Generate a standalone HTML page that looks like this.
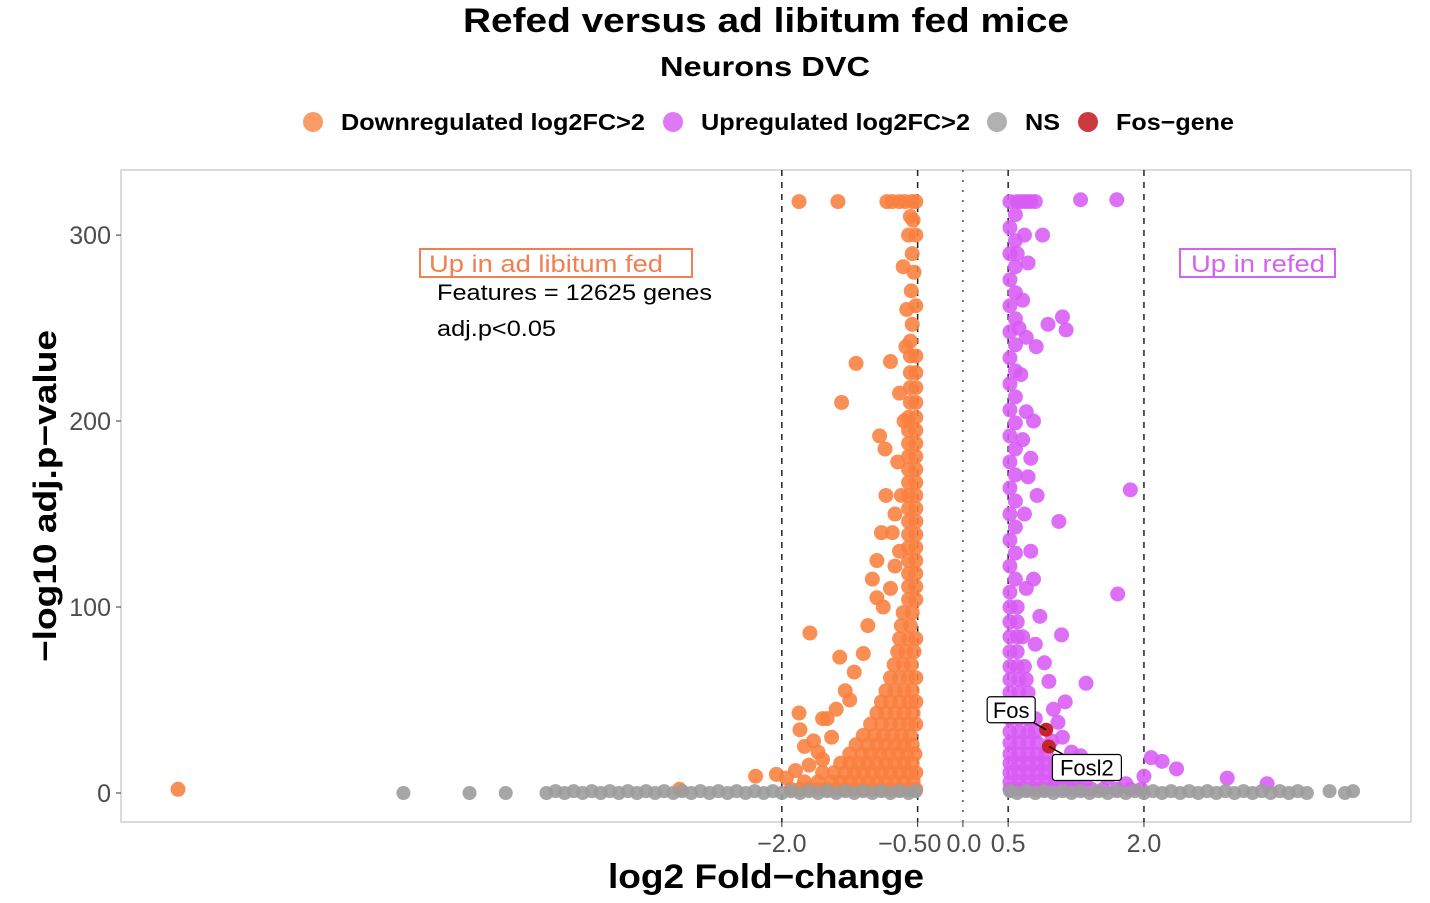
<!DOCTYPE html>
<html><head><meta charset="utf-8"><style>
html,body{margin:0;padding:0;background:#fff;}
svg{display:block;font-family:"Liberation Sans",Arial,sans-serif;}
</style></head><body>
<svg id="chart" width="1430" height="903" viewBox="0 0 1430 903" xmlns="http://www.w3.org/2000/svg">
<rect width="1430" height="903" fill="#fff"/>
<text x="766" y="32" text-anchor="middle" font-size="34" font-weight="bold" textLength="606" lengthAdjust="spacingAndGlyphs">Refed versus ad libitum fed mice</text>
<text x="765" y="76" text-anchor="middle" font-size="28" font-weight="bold" textLength="210" lengthAdjust="spacingAndGlyphs">Neurons DVC</text>
<g font-size="23" font-weight="bold">
 <g><circle cx="313" cy="122" r="10" fill="#F98A4E" opacity="0.85"/><text x="341" y="130" textLength="304" lengthAdjust="spacingAndGlyphs">Downregulated log2FC&gt;2</text></g>
 <g><circle cx="673" cy="122" r="10" fill="#DA62F4" opacity="0.85"/><text x="701" y="130" textLength="269" lengthAdjust="spacingAndGlyphs">Upregulated log2FC&gt;2</text></g>
 <g><circle cx="997" cy="122" r="10" fill="#A3A3A3" opacity="0.85"/><text x="1025" y="130" textLength="35" lengthAdjust="spacingAndGlyphs">NS</text></g>
 <g><circle cx="1088" cy="122" r="10" fill="#C8232B" opacity="0.9"/><text x="1116" y="130" textLength="118" lengthAdjust="spacingAndGlyphs">Fos−gene</text></g>
</g>
<rect x="121" y="170" width="1290" height="652" fill="#fff" stroke="#cfcfcf" stroke-width="1.5"/>
<g id="grid"></g>
<g id="marks"></g>
<g id="axes" font-size="25" fill="#4d4d4d"></g>
<text transform="translate(56,496) rotate(-90)" text-anchor="middle" font-size="32" font-weight="bold" textLength="332" lengthAdjust="spacingAndGlyphs">−log10 adj.p−value</text>
<text x="766" y="888" text-anchor="middle" font-size="34" font-weight="bold" textLength="316" lengthAdjust="spacingAndGlyphs">log2 Fold−change</text>
<g><rect x="420" y="249" width="272" height="28" fill="none" stroke="#F08050" stroke-width="2"/><text x="429" y="272" font-size="24" fill="#F08050" textLength="234" lengthAdjust="spacingAndGlyphs">Up in ad libitum fed</text></g>
<g><rect x="1180" y="249" width="155" height="28" fill="none" stroke="#D462F0" stroke-width="2"/><text x="1191" y="272" font-size="24" fill="#D462F0" textLength="134" lengthAdjust="spacingAndGlyphs">Up in refed</text></g>
<text x="437" y="300" font-size="22" textLength="275" lengthAdjust="spacingAndGlyphs">Features = 12625 genes</text>
<text x="437" y="336" font-size="22" textLength="119" lengthAdjust="spacingAndGlyphs">adj.p&lt;0.05</text>
<g id="labels"></g>
</svg>
<script>
const xTicks=[-2.0,-0.5,0.0,0.5,2.0];
const xTickLabels=["−2.0","−0.50","0.0","0.5","2.0"];
const yTicks=[0,100,200,300];
const yTickLabels=["0","100","200","300"];
const cutoffLines=[-2,-0.5,0.5,2];
const downPts=[
[-1.9,2],[-1.8,2],[-1.7,2],[-1.6,2],[-1.5,2],[-1.4,2],[-1.3,2],[-1.2,2],[-1.1,2],[-1.0,2],[-0.9,2],[-0.8,2],[-0.7,2],[-0.6,2],[-0.52,2],
[-1.75,6],[-1.6,6],[-1.45,6],[-1.35,6],[-1.25,6],[-1.15,6],[-1.05,6],[-0.95,6],[-0.85,6],[-0.75,6],[-0.65,6],[-0.55,6],
[-1.55,11],[-1.42,11],[-1.3,11],[-1.2,11],[-1.1,11],[-1.0,11],[-0.9,11],[-0.8,11],[-0.7,11],[-0.6,11],[-0.52,11],
[-1.35,16],[-1.25,16],[-1.15,16],[-1.05,16],[-0.95,16],[-0.85,16],[-0.75,16],[-0.65,16],[-0.56,16],
[-1.25,21],[-1.12,21],[-1.02,21],[-0.92,21],[-0.82,21],[-0.72,21],[-0.62,21],[-0.53,21],
[-1.18,26],[-1.05,26],[-0.95,26],[-0.85,26],[-0.75,26],[-0.65,26],[-0.56,26],
[-1.1,31],[-0.98,31],[-0.88,31],[-0.78,31],[-0.68,31],[-0.58,31],
[-1.02,37],[-0.9,37],[-0.8,37],[-0.7,37],[-0.6,37],[-0.52,37],
[-0.95,43],[-0.85,43],[-0.75,43],[-0.65,43],[-0.55,43],
[-0.9,49],[-0.8,49],[-0.7,49],[-0.6,49],[-0.52,49],
[-0.85,55],[-0.75,55],[-0.65,55],[-0.56,55],
[-0.8,62],[-0.7,62],[-0.6,62],[-0.52,62],
[-0.76,69],[-0.66,69],[-0.57,69],[-0.72,76],[-0.63,76],[-0.54,76],
[-0.7,83],[-0.6,83],[-0.52,83],[-0.68,90],[-0.58,90],[-0.66,97],[-0.56,97],
[-0.6,104],[-0.52,104],[-0.6,111],[-0.52,111],[-0.6,118],[-0.52,118],[-0.6,125],[-0.52,125],[-0.6,132],[-0.52,132],
[-0.6,139],[-0.52,139],[-0.6,146],[-0.52,146],[-0.6,153],[-0.52,153],[-0.6,160],[-0.52,160],[-0.6,167],[-0.52,167],
[-0.6,174],[-0.52,174],[-0.6,181],[-0.52,181],[-0.6,188],[-0.52,188],[-0.6,195],[-0.52,195],[-0.6,202],[-0.52,202],
[-0.58,210],[-0.52,210],[-0.58,218],[-0.52,218],[-0.58,226],[-0.52,226],[-0.58,235],[-0.52,235],[-0.58,243],
[-0.56,252],[-0.52,262],[-0.57,270],[-0.54,280],[-0.56,290],[-0.52,300],[-0.55,308],
[-0.7,130],[-0.75,122],[-0.68,160],[-0.72,178],[-0.65,200],[-0.7,215],[-0.63,240],[-0.8,232],[-0.62,260],[-0.66,283],
[-0.6,300],[-0.58,310],[-0.84,318],[-0.78,318],[-0.7,318],[-0.64,318],[-0.56,318],[-0.52,318],
[-1.65,28],[-1.6,22],[-1.75,25],[-1.55,18],[-1.85,12],[-1.95,8],[-2.06,10],[-2.29,9],[-1.7,15],[-1.45,30],
[-1.4,45],[-1.3,55],[-1.25,50],[-1.2,65],[-1.1,75],[-1.05,90],[-1.0,115],[-0.95,125],[-0.9,140],[-1.5,40],
[-1.8,34],[-1.81,43],[-1.55,40],[-1.36,73],[-1.69,86],[-1.34,210],[-1.18,231],[-0.92,192],[-0.86,185],[-0.85,160],
[-0.88,100],[-0.95,105],[-0.8,110],[-0.78,140],[-0.75,150],[-3.13,2],[-8.67,2],[-1.81,318],[-1.38,318]
];
const upPts=[
[0.52,2],[0.62,2],[0.72,2],[0.82,2],[0.92,2],[1.02,2],[1.12,2],[1.22,2],[1.32,2],[1.42,2],[1.55,2],[1.7,2],[1.85,2],[1.97,2],
[0.52,6],[0.62,6],[0.72,6],[0.82,6],[0.92,6],[1.02,6],[1.12,6],[1.22,6],[1.35,6],
[0.52,11],[0.62,11],[0.72,11],[0.82,11],[0.92,11],[1.02,11],[1.12,11],
[0.52,16],[0.62,16],[0.72,16],[0.82,16],[0.92,16],[1.02,16],
[0.52,21],[0.62,21],[0.72,21],[0.82,21],[0.92,21],
[0.52,27],[0.62,27],[0.72,27],[0.82,27],[0.52,33],[0.62,33],[0.72,33],[0.8,33],
[0.52,40],[0.62,40],[0.72,40],[0.8,40],[0.52,47],[0.62,47],[0.72,47],[0.52,54],[0.62,54],[0.72,54],
[0.52,61],[0.62,61],[0.7,61],[0.52,68],[0.6,68],[0.68,68],[0.52,76],[0.6,76],[0.52,84],[0.6,84],[0.66,84],
[0.52,92],[0.6,92],[0.52,100],[0.6,100],
[0.52,108],[0.58,115],[0.52,122],[0.58,129],[0.52,136],[0.58,143],[0.52,150],[0.58,157],[0.52,164],[0.58,171],
[0.52,178],[0.58,185],[0.52,192],[0.58,199],[0.52,206],[0.58,213],[0.52,220],[0.58,227],[0.52,234],[0.58,241],
[0.52,248],[0.58,255],[0.52,262],[0.58,269],[0.52,276],[0.58,283],[0.52,290],[0.58,297],[0.52,304],[0.58,311],[0.52,318],
[0.7,110],[0.75,130],[0.68,150],[0.72,170],[0.66,190],[0.7,205],[0.64,225],[0.7,245],[0.66,265],[0.72,285],
[0.68,300],[0.6,318],[0.65,318],[0.7,318],[0.75,318],[0.8,318],[0.6,290],[0.62,250],[0.78,115],[0.85,95],
[0.8,80],[0.9,70],[0.95,60],[1.0,45],[1.05,38],[1.1,30],[0.98,28],[1.2,22],[1.3,20],[1.4,12],
[1.6,8],[1.8,5],[2.0,9],[2.08,19],[2.2,17],[2.36,13],[2.92,8],[3.36,5],[1.30,319],[1.70,319],
[0.88,300],[1.10,256],[1.14,249],[0.94,252],[0.81,240],[1.85,163],[1.71,107],[1.06,146],[1.09,85],[1.36,59],
[1.13,49],[0.78,200],[0.75,180],[0.82,160]
];
const nsX=[-6.18,-5.45,-5.05,-4.6,-4.5,-4.4,-4.3,-4.2,-4.1,-4.0,-3.9,-3.8,-3.7,-3.6,-3.5,-3.4,-3.3,-3.2,-3.1,-3.0,-2.9,-2.8,-2.7,-2.6,-2.5,-2.4,-2.3,-2.2,-2.1,-2.0,-1.9,-1.8,-1.7,-1.6,-1.5,-1.4,-1.3,-1.2,-1.1,-1.0,-0.9,-0.8,-0.7,-0.6,-0.52,
0.52,0.6,0.7,0.8,0.9,1.0,1.1,1.2,1.3,1.4,1.5,1.6,1.7,1.8,1.9,2.0,2.1,2.2,2.3,2.4,2.5,2.6,2.7,2.8,2.9,3.0,3.1,3.2,3.3,3.4,3.5,3.6,3.7,3.8,4.05,4.22,4.31];
const nsY=[0,0,0,0,1,0,1,0,1,0,1,0,1,0,1,0,1,0,1,0,1,0,1,0,1,0,1,0,1,0,1,0,1,0,1,0,1,0,1,0,1,0,1,0,1,
1,0,1,0,1,0,1,0,1,0,1,0,1,0,1,0,1,0,1,0,1,0,1,0,1,0,1,0,1,0,1,0,1,0,1,0,1,1];
const fosNames=["Fos","Fosl2"];
const fosX=[0.92,0.95];
const fosY=[34,25];

const X0=121,X1=1411,Y0=170,Y1=822;
const xMin=-9.30,xMax=4.95,yMin=-15.6,yMax=335;
const sx=v=>X0+(v-xMin)/(xMax-xMin)*(X1-X0);
const sy=v=>Y1-(v-yMin)/(yMax-yMin)*(Y1-Y0);
const NS="http://www.w3.org/2000/svg";
function mk(tag,attrs,parent){const e=document.createElementNS(NS,tag);for(const k in attrs)e.setAttribute(k,attrs[k]);parent.appendChild(e);return e;}
const grid=document.getElementById('grid'),marks=document.getElementById('marks'),axes=document.getElementById('axes'),labels=document.getElementById('labels');
cutoffLines.forEach(v=>{
 const l=mk('line',{x1:sx(v),x2:sx(v),y1:Y0,y2:Y1,stroke:'#222','stroke-width':1.5,'stroke-dasharray':'6 6'},grid);
 
 
});
const z=mk('line',{x1:sx(0),x2:sx(0),y1:Y0,y2:Y1,stroke:'#777','stroke-width':2,'stroke-dasharray':'2 8'},grid);


const R=7.5;
downPts.forEach(p=>{
 const c=mk('circle',{cx:sx(p[0]),cy:sy(p[1]),r:R,fill:'#F9803F','fill-opacity':0.88},marks);
 
 
});
upPts.forEach(p=>{
 const c=mk('circle',{cx:sx(p[0]),cy:sy(p[1]),r:R,fill:'#D85BF5','fill-opacity':0.88},marks);
 
 
});
nsX.forEach((v,i)=>{
 const c=mk('circle',{cx:sx(v),cy:sy(nsY[i]),r:7,fill:'#9C9C9C','fill-opacity':0.9},marks);
 
 
});
fosX.forEach((v,i)=>{
 const c=mk('circle',{cx:sx(v),cy:sy(fosY[i]),r:7,fill:'#C8232B'},marks);
 
 
});
const lab=[{dx:-35,dy:-20,w:48},{dx:38,dy:21,w:69}];
fosNames.forEach((n,i)=>{
 const px=sx(fosX[i]),py=sy(fosY[i]);const cx=px+lab[i].dx,cy=py+lab[i].dy;
 const g=mk('g',{},labels);
 
 
 mk('line',{x1:px,y1:py,x2:cx,y2:cy,stroke:'#000','stroke-width':1.5},g);
 mk('rect',{x:cx-lab[i].w/2,y:cy-13,width:lab[i].w,height:26,rx:3,fill:'#fff',stroke:'#000','stroke-width':1.2},g);
 const t=mk('text',{x:cx,y:cy+8,'text-anchor':'middle','font-size':22},g);t.textContent=n;
});
xTicks.forEach((v,i)=>{
 mk('line',{x1:sx(v),x2:sx(v),y1:Y1,y2:Y1+5,stroke:'#333','stroke-width':1},axes);
 const t=mk('text',{x:sx(v)+(i===1?-8:(i===2?1:0)),y:852,'text-anchor':'middle'},axes);
 
 
 t.textContent=xTickLabels[i];
});
yTicks.forEach((v,i)=>{
 mk('line',{x1:X0-5,x2:X0,y1:sy(v),y2:sy(v),stroke:'#333','stroke-width':1},axes);
 const t=mk('text',{x:X0-10,y:sy(v)+9,'text-anchor':'end'},axes);
 
 
 t.textContent=yTickLabels[i];
});
</script>
</body></html>
